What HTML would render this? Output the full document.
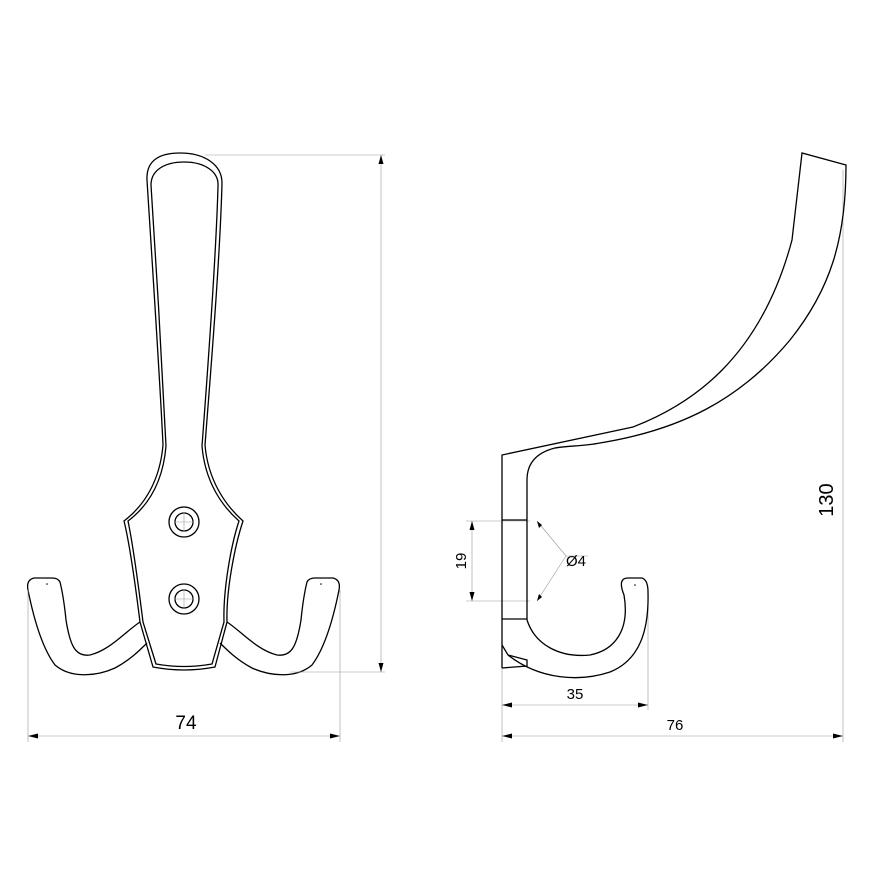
<!DOCTYPE html>
<html><head><style>body{margin:0;background:#fff}svg{display:block}</style></head>
<body>
<svg width="870" height="870" viewBox="0 0 870 870" xmlns="http://www.w3.org/2000/svg" font-family="Liberation Sans, sans-serif">
<g fill="none" stroke="#000" stroke-width="1.3">
<path d="M153,667 L140,622 C136,590 130,545 124,521 C145,505 160,480 163,445 C160,380 152,260 147,180 C146,160 160,153 180,153 C205,153 222,165 222,183 C220,260 210,380 205,445 C208,480 225,505 243,521 C235,545 226,590 227,622 L215,667 Q184,673 153,667 Z"/>
<path d="M156,664 L143,622 C139,590 133,545 128,521 C148,506 163,482 166,446 C163,380 156,260 151,185 C151,170 165,162 184,162 C205,162 219,172 218,186 C216,260 207,380 202,446 C205,482 222,506 239,521 C231,545 223,590 224,622 L212,664 Q184,669 156,664 Z"/>
<circle cx="184" cy="522" r="15"/><circle cx="184" cy="522" r="9"/>
<circle cx="184" cy="599" r="15"/><circle cx="184" cy="599" r="9"/>
<path d="M140,622 C125,632 110,650 90,655 C75,657 70,645 66,620 C64,600 62,590 60,582 Q58,578 52,578 L34,578 Q26,580 28,590 C32,610 40,645 55,665 C70,678 95,677 115,668 C130,660 140,650 147,643"/>
<path d="M227,622 C242,632 257,650 277,655 C292,657 297,645 301,620 C303,600 305,590 307,582 Q309,578 315,578 L333,578 Q341,580 339,590 C335,610 327,645 312,665 C297,678 272,677 252,668 C237,660 227,650 220,643"/>
</g>
<g fill="#000"><circle cx="47" cy="584" r="0.8"/><circle cx="321" cy="584" r="0.8"/></g>
<g stroke="#999" stroke-width="0.6" fill="none">
<line x1="174" y1="522" x2="194" y2="522"/><line x1="184" y1="512" x2="184" y2="532"/>
<line x1="174" y1="599" x2="194" y2="599"/><line x1="184" y1="589" x2="184" y2="609"/>
<line x1="28" y1="590" x2="28" y2="742"/><line x1="340" y1="590" x2="340" y2="742"/>
<line x1="28" y1="736" x2="340" y2="736"/>
<line x1="205" y1="155" x2="385" y2="155"/><line x1="290" y1="672" x2="385" y2="672"/>
<line x1="381" y1="155" x2="381" y2="672"/>
<line x1="466" y1="521" x2="530" y2="521"/><line x1="466" y1="601" x2="530" y2="601"/>
<line x1="472" y1="521" x2="472" y2="601"/>
<line x1="537" y1="521" x2="566" y2="556"/><line x1="537" y1="601" x2="566" y2="556"/><line x1="566" y1="556" x2="588" y2="556"/>
<line x1="502" y1="668" x2="502" y2="742"/><line x1="648" y1="598" x2="648" y2="710"/>
<line x1="502" y1="705" x2="648" y2="705"/>
<line x1="843" y1="170" x2="843" y2="742"/>
<line x1="502" y1="736" x2="843" y2="736"/>
</g>
<g fill="#000">
<path d="M28,736 l10,-2.5 v5z"/><path d="M340,736 l-10,-2.5 v5z"/>
<path d="M381,155 l-2.5,9 h5z"/><path d="M381,672 l-2.5,-9 h5z"/>
<path d="M472,521 l-2.5,9 h5z"/><path d="M472,601 l-2.5,-9 h5z"/>
<path d="M537,521 l2,7 l3,-3z"/><path d="M537,601 l2,-7 l3,3z"/>
<path d="M502,705 l10,-2.5 v5z"/><path d="M648,705 l-10,-2.5 v5z"/>
<path d="M502,736 l10,-2.5 v5z"/><path d="M843,736 l-10,-2.5 v5z"/>
</g>
<g fill="none" stroke="#000" stroke-width="1.3">
<path d="M502,668 L502,455 L633,427 C690,405 760,360 792,240 L802,153 L846,165 C846,240 830,290 790,340 C740,400 680,430 600,443 C585,446 565,446 555,448 Q527,455 527,480 L527,620"/>
<line x1="502" y1="520" x2="527" y2="520"/>
<line x1="502" y1="619" x2="527" y2="619"/>
<path d="M527,620 C535,645 560,658 590,655 C615,650 630,630 624,595 C620,585 620,578 628,578 L642,578 Q648,580 648,592 C649,630 640,660 610,672 C580,682 540,680 508,655"/>
<path d="M502,645 L508,655 L527,660 L527,666 L502,668"/>
</g>
<circle cx="635" cy="585" r="0.8" fill="#000"/>
<g fill="#000">
<text x="186" y="729" text-anchor="middle" font-size="19">74</text>
<text x="575" y="699" text-anchor="middle" font-size="15">35</text>
<text x="675" y="730" text-anchor="middle" font-size="15">76</text>
<text x="566" y="566" font-size="15">Ø4</text>
<text transform="translate(466,561) rotate(-90)" text-anchor="middle" font-size="15">19</text>
<text transform="translate(833,500) rotate(-90)" text-anchor="middle" font-size="20">130</text>
</g>
</svg>
</body></html>
